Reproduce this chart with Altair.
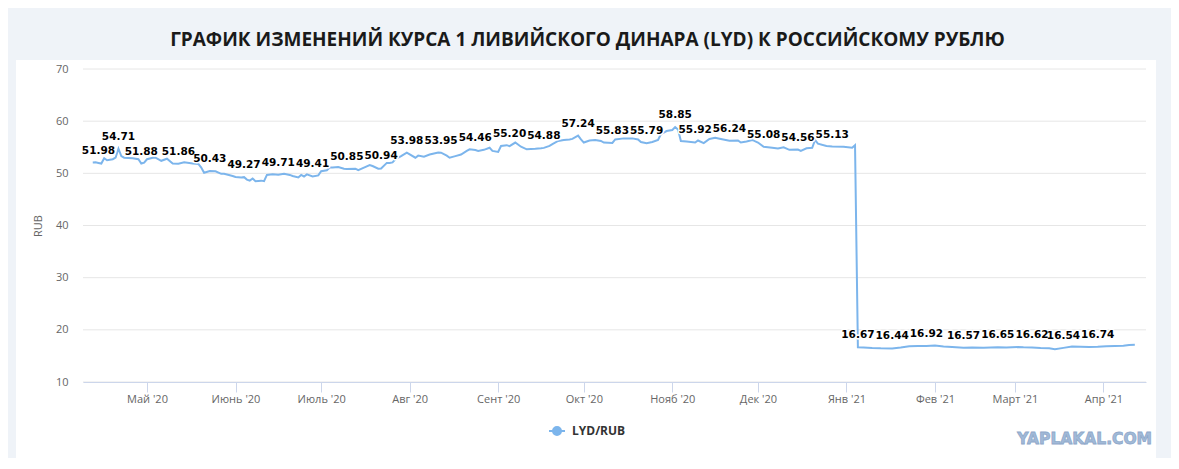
import altair as alt
import pandas as pd

# ---------------- data ----------------
title_text = "ГРАФИК ИЗМЕНЕНИЙ КУРСА 1 ЛИВИЙСКОГО ДИНАРА (LYD) К РОССИЙСКОМУ РУБЛЮ"
series_name = "LYD/RUB"
y_title = "RUB"
watermark = "YAPLAKAL.COM"

month_names = ["Янв", "Фев", "Март", "Апр", "Май", "Июнь", "Июль", "Авг", "Сент", "Окт", "Нояб", "Дек"]
tick_dates = ["2020-05-01", "2020-06-01", "2020-07-01", "2020-08-01", "2020-09-01", "2020-10-01",
              "2020-11-01", "2020-12-01", "2021-01-01", "2021-02-01", "2021-03-01", "2021-04-01"]
y_ticks = [10, 20, 30, 40, 50, 60, 70]

line_dates = [
    "2020-04-12", "2020-04-13", "2020-04-15", "2020-04-16", "2020-04-17", "2020-04-19", "2020-04-20",
    "2020-04-22", "2020-04-23", "2020-04-26", "2020-04-28", "2020-04-30", "2020-05-01", "2020-05-03",
    "2020-05-04", "2020-05-06", "2020-05-08", "2020-05-10", "2020-05-14", "2020-05-17", "2020-05-19",
    "2020-05-20", "2020-05-21", "2020-05-25", "2020-05-27", "2020-05-28", "2020-05-31", "2020-06-01",
    "2020-06-03", "2020-06-05", "2020-06-06", "2020-06-07", "2020-06-08", "2020-06-10", "2020-06-11",
    "2020-06-12", "2020-06-14", "2020-06-18", "2020-06-20", "2020-06-21", "2020-06-23", "2020-06-24",
    "2020-06-25", "2020-06-26", "2020-06-30", "2020-07-01", "2020-07-03", "2020-07-04", "2020-07-05",
    "2020-07-07", "2020-07-09", "2020-07-13", "2020-07-14", "2020-07-16", "2020-07-18", "2020-07-19",
    "2020-07-21", "2020-07-24", "2020-07-25", "2020-07-26", "2020-07-27", "2020-07-29", "2020-08-03",
    "2020-08-04", "2020-08-06", "2020-08-08", "2020-08-11", "2020-08-14", "2020-08-15", "2020-08-17",
    "2020-08-19", "2020-08-21", "2020-08-22", "2020-08-25", "2020-08-27", "2020-08-29", "2020-08-30",
    "2020-09-01", "2020-09-02", "2020-09-04", "2020-09-07", "2020-09-09", "2020-09-11", "2020-09-14",
    "2020-09-16", "2020-09-19", "2020-09-20", "2020-09-22", "2020-09-24", "2020-09-26", "2020-09-27",
    "2020-09-30", "2020-10-01", "2020-10-03", "2020-10-05", "2020-10-07", "2020-10-08", "2020-10-12",
    "2020-10-15", "2020-10-18", "2020-10-20", "2020-10-21", "2020-10-25", "2020-10-27", "2020-10-28",
    "2020-10-30", "2020-11-01", "2020-11-03", "2020-11-04", "2020-11-06", "2020-11-10", "2020-11-12",
    "2020-11-14", "2020-11-16", "2020-11-18", "2020-11-24", "2020-11-25", "2020-11-27", "2020-11-29",
    "2020-12-01", "2020-12-06", "2020-12-08", "2020-12-10", "2020-12-12", "2020-12-16", "2020-12-18",
    "2020-12-20", "2020-12-21", "2020-12-22", "2020-12-25", "2020-12-31", "2021-01-03", "2021-01-04",
    "2021-01-07", "2021-01-10", "2021-01-13", "2021-01-20", "2021-01-23", "2021-01-26", "2021-02-01",
    "2021-02-04", "2021-02-07", "2021-02-14", "2021-02-18", "2021-02-26", "2021-03-02", "2021-03-04",
    "2021-03-10", "2021-03-13", "2021-03-15", "2021-03-21", "2021-03-24", "2021-03-27", "2021-04-02",
    "2021-04-05", "2021-04-08", "2021-04-10", "2021-04-12",
]
line_values = [
    52.06, 52.1, 51.87, 52.9, 52.5, 52.7, 53.0,
    53.3, 53.0, 52.9, 52.7, 52.06, 52.7, 53.0,
    53.0, 52.4, 52.8, 51.9, 52.1, 51.9, 51.8,
    51.1, 50.1, 50.4, 49.9, 49.9, 49.5, 49.3,
    49.2, 48.8, 48.6, 49.0, 48.5, 48.6, 48.5,
    49.7, 49.8, 49.9, 49.7, 49.5, 49.2, 49.7,
    49.4, 49.8, 49.6, 50.4, 50.6, 51.1, 51.1,
    51.2, 50.9, 50.9, 50.6, 51.1, 51.6, 51.4,
    50.9, 52.0, 52.0, 52.1, 52.7, 53.3, 53.0,
    53.4, 53.2, 53.6, 54.0, 53.4, 53.0, 53.3,
    53.6, 54.3, 54.6, 54.3, 54.5, 54.9, 54.3,
    54.1, 55.25, 55.4, 55.9, 55.1, 54.6, 54.7,
    54.8, 55.25, 55.6, 56.2, 56.4, 56.5, 56.6,
    56.5, 55.9, 56.3, 56.4, 56.2, 55.9, 56.5,
    56.7, 56.7, 56.5, 56.0, 56.0, 56.4, 57.5,
    58.1, 58.3, 58.4, 56.2, 56.1, 56.3, 55.8,
    56.6, 56.8, 56.6, 56.3, 55.9, 56.1, 56.4,
    55.9, 54.9, 54.75, 55.0, 54.5, 54.3, 54.8,
    54.9, 56.4, 55.7, 55.25, 55.1, 54.9, 55.4,
    16.6, 16.5, 16.45, 16.6, 16.85, 16.9, 17.0,
    16.8, 16.7, 16.6, 16.55, 16.6, 16.7, 16.65,
    16.5, 16.45, 16.3, 16.8, 16.75, 16.7, 16.85,
    16.9, 16.95, 17.1, 17.15,
]

label_dates = [
    "2020-04-14", "2020-04-21", "2020-04-29", "2020-05-12", "2020-05-23", "2020-06-04", "2020-06-16",
    "2020-06-28", "2020-07-10", "2020-07-22", "2020-07-31", "2020-08-12", "2020-08-24", "2020-09-05",
    "2020-09-17", "2020-09-29", "2020-10-11", "2020-10-23", "2020-11-02", "2020-11-09", "2020-11-21",
    "2020-12-03", "2020-12-15", "2020-12-27", "2021-01-05", "2021-01-17", "2021-01-29", "2021-02-11",
    "2021-02-23", "2021-03-07", "2021-03-18", "2021-03-30",
]
label_values = [
    51.98, 54.71, 51.88, 51.86, 50.43, 49.27, 49.71,
    49.41, 50.85, 50.94, 53.98, 53.95, 54.46, 55.20,
    54.88, 57.24, 55.83, 55.79, 58.85, 55.92, 56.24,
    55.08, 54.56, 55.13, 16.67, 16.44, 16.92, 16.57,
    16.65, 16.62, 16.54, 16.74,
]

x_domain = ["2020-04-08T14:00", "2021-04-15T22:00"]

# ---------------- build tables ----------------
def ms(s):
    return int(pd.Timestamp(s, tz="UTC").value // 10**6)

line_df = pd.DataFrame({"date": line_dates + label_dates, "rate": line_values + label_values})
line_df = line_df.sort_values("date").reset_index(drop=True)
line_df["series"] = series_name

label_df = pd.DataFrame({"date": label_dates, "rate": label_values})
label_df["text"] = [f"{v:.2f}" for v in label_values]

grid_df = pd.DataFrame({"rate": y_ticks})

W, H = 1063, 313
LINE_COLOR = "#7cb5ec"
AXIS_GREY = "#666666"

month_js = "[" + ",".join(f"'{m}'" for m in month_names) + "]"
x_label_expr = month_js + "[utcmonth(datum.value)] + \" '\" + utcFormat(datum.value, '%y')"

x_scale = alt.Scale(type="utc", domain=[ms(d) for d in x_domain])
y_scale = alt.Scale(domain=[10, 70], nice=False, zero=False)

x_axis = alt.Axis(
    values=[ms(d) for d in tick_dates], labelExpr=x_label_expr, title=None, grid=False,
    domainColor="#ccd6eb", domainWidth=1, tickColor="#ccd6eb", tickSize=10, tickWidth=1,
    labelColor=AXIS_GREY, labelFont="Open Sans", labelFontSize=11, labelPadding=1,
    labelFlush=False, labelOverlap=False, zindex=1,
)
y_axis = alt.Axis(
    values=y_ticks, title=y_title, grid=False, domain=False, ticks=False, labelPadding=15,
    labelColor=AXIS_GREY, labelFont="Open Sans", labelFontSize=11,
    titleColor=AXIS_GREY, titleFont="Open Sans", titleFontSize=11, titleFontWeight="normal",
    titleAngle=270, titleX=-45, titleY=H / 2, titleAlign="center", titleBaseline="middle",
    zindex=1,
)

legend_symbol = "M-1,0L1,0M-0.5,0A0.5,0.5,0,1,1,0.5,0A0.5,0.5,0,1,1,-0.5,0Z"

one_row = alt.Data(values=[{"k": 1}])

card = alt.Chart(one_row).mark_rect(fill="white").encode(
    x=alt.value(-67), x2=alt.value(1073), y=alt.value(-9), y2=alt.value(395)
)

grid = alt.Chart(grid_df).mark_rule(color="#e6e6e6", strokeWidth=1).encode(
    y=alt.Y("rate:Q", scale=y_scale, axis=y_axis),
    x=alt.value(0), x2=alt.value(W),
)

line = alt.Chart(line_df).mark_line(strokeWidth=2, interpolate="linear").encode(
    x=alt.X("date:T", scale=x_scale, axis=x_axis),
    y=alt.Y("rate:Q", scale=y_scale, axis=y_axis),
    color=alt.Color(
        "series:N",
        scale=alt.Scale(range=[LINE_COLOR]),
        legend=alt.Legend(
            title=None, orient="none", legendX=465, legendY=353, padding=0,
            symbolType=legend_symbol, symbolSize=256, symbolStrokeWidth=2,
            symbolFillColor=LINE_COLOR, symbolStrokeColor=LINE_COLOR,
            labelFont="Open Sans", labelFontSize=12, labelFontWeight="bold",
            labelColor="#333333", labelOffset=6, zindex=1,
        ),
    ),
)

label_common = dict(font="DejaVu Sans", fontWeight="bold", fontSize=10.5,
                    baseline="middle", align="center", dy=-12)

labels_halo = alt.Chart(label_df).mark_text(
    fill="white", stroke="white", strokeWidth=3, strokeJoin="round", **label_common
).encode(x="date:T", y="rate:Q", text="text:N")

labels = alt.Chart(label_df).mark_text(fill="#000000", **label_common).encode(
    x="date:T", y="rate:Q", text="text:N"
)

wm = alt.Chart(one_row).mark_text(
    text=watermark, font="DejaVu Sans", fontWeight="bold", fontSize=15.5,
    align="right", baseline="middle", fill="#a2bad8", stroke="#8fa9ca", strokeWidth=0.8,
).encode(x=alt.value(1069), y=alt.value(370))

chart = alt.layer(card, grid, line, labels_halo, labels, wm).properties(
    width=W, height=H,
    title=alt.TitleParams(
        text=title_text, font="Open Sans", fontSize=19, fontWeight="bold",
        color="#1a1a1a", anchor="middle", offset=10, dx=-27,
    ),
    autosize=alt.AutoSizeParams(type="none"),
    padding={"left": 75, "top": 61, "right": 25, "bottom": 76},
    background="#eff3f8",
).configure_view(stroke=None)

chart.save("out.html", embed_options={"renderer": "svg", "actions": False})
